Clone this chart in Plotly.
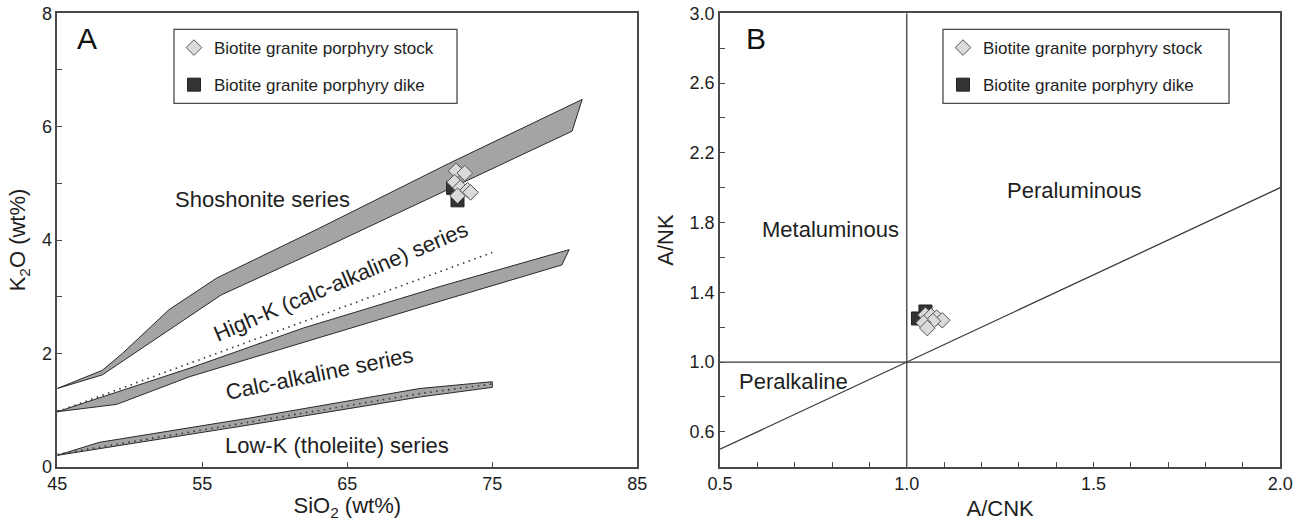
import plotly.graph_objects as go

W, H = 1307, 521

# ---------------- Panel A: SiO2 vs K2O ----------------
# Series boundary bands (upper edge / lower edge, left to right)
sho_upper_x = [45, 48.1, 49.5, 52.7, 56.0, 63.0, 72.0, 81.2]
sho_upper_y = [1.38, 1.70, 2.00, 2.77, 3.33, 4.20, 5.35, 6.48]
sho_lower_x = [45, 48.1, 49.3, 56.3, 63.3, 71.4, 80.5]
sho_lower_y = [1.38, 1.62, 1.82, 3.03, 3.85, 4.83, 5.92]

hk_upper_x = [45, 48.0, 54.15, 62.0, 71.4, 80.3]
hk_upper_y = [0.97, 1.22, 1.74, 2.45, 3.18, 3.83]
hk_lower_x = [45, 49.1, 54.15, 71.4, 79.8]
hk_lower_y = [0.97, 1.10, 1.59, 2.92, 3.56]

lk_upper_x = [45, 47.9, 58.3, 70.0, 75.0]
lk_upper_y = [0.20, 0.43, 0.86, 1.38, 1.50]
lk_lower_x = [45, 58.3, 70.0, 75.0]
lk_lower_y = [0.20, 0.74, 1.23, 1.40]

# Dotted reference lines
hk_dot_x = [45, 75]
hk_dot_y = [0.97, 3.78]
lk_dot_x = [45, 58.3, 70.0, 75.0]
lk_dot_y = [0.22, 0.79, 1.29, 1.46]

# Samples
stock_sio2 = [72.5, 73.1, 72.4, 72.8, 73.3, 73.5, 72.6]
stock_k2o = [5.22, 5.18, 5.02, 4.92, 4.88, 4.84, 4.78]
dike_sio2 = [72.3, 72.6]
dike_k2o = [4.92, 4.70]

a_xticks = [45, 55, 65, 75, 85]
a_xtext = ["45", "55", "65", "75", "85"]
a_yticks = [0, 2, 4, 6, 8]
a_ytext = ["0", "2", "4", "6", "8"]
a_yminor = [1, 3, 5, 7]

# ---------------- Panel B: A/CNK vs A/NK ----------------
vline_x = [1.0, 1.0]
vline_y = [0.4, 3.0]
hline_x = [0.5, 2.0]
hline_y = [1.0, 1.0]
diag_x = [0.5, 2.0]
diag_y = [0.5, 2.0]

stock_acnk = [1.05, 1.065, 1.08, 1.095, 1.07, 1.045, 1.055]
stock_anK = [1.27, 1.265, 1.255, 1.24, 1.235, 1.225, 1.195]
dike_acnk = [1.03, 1.05]
dike_anK = [1.25, 1.29]

b_xticks = [0.5, 1.0, 1.5, 2.0]
b_xtext = ["0.5", "1.0", "1.5", "2.0"]
b_xminor = [0.6, 0.7, 0.8, 0.9, 1.1, 1.2, 1.3, 1.4, 1.6, 1.7, 1.8, 1.9]
b_yticks = [0.6, 1.0, 1.4, 1.8, 2.2, 2.6, 3.0]
b_ytext = ["0.6", "1.0", "1.4", "1.8", "2.2", "2.6", "3.0"]
b_yminor = [0.4, 0.8, 1.2, 1.6, 2.0, 2.4, 2.8]

FONT = "Liberation Sans, Arial, sans-serif"
TXT = "#1e1e1e"
AX = "#4a4a4a"
BAND_FILL = "#a4a4a4"
BAND_LINE = "#2a2a2a"

STOCK_MARKER = dict(symbol="diamond", size=12, color="#dadada", line=dict(color="#555555", width=1))
DIKE_MARKER = dict(symbol="square", size=13, color="#333333", line=dict(color="#222222", width=1))

fig = go.Figure()


def band(ux, uy, lx, ly):
    return go.Scatter(
        x=ux + lx[::-1], y=uy + ly[::-1], mode="lines", fill="toself",
        fillcolor=BAND_FILL, line=dict(color=BAND_LINE, width=1),
        hoverinfo="skip", showlegend=False, xaxis="x", yaxis="y")


fig.add_trace(band(sho_upper_x, sho_upper_y, sho_lower_x, sho_lower_y))
fig.add_trace(band(hk_upper_x, hk_upper_y, hk_lower_x, hk_lower_y))
fig.add_trace(band(lk_upper_x, lk_upper_y, lk_lower_x, lk_lower_y))

for dx, dy in [(hk_dot_x, hk_dot_y), (lk_dot_x, lk_dot_y)]:
    fig.add_trace(go.Scatter(x=dx, y=dy, mode="lines",
                             line=dict(color="#333333", width=1.6, dash="1.5px,4.5px"),
                             hoverinfo="skip", showlegend=False, xaxis="x", yaxis="y"))

# Panel A samples (dike first so the stock diamonds sit on top)
fig.add_trace(go.Scatter(x=dike_sio2, y=dike_k2o, mode="markers", marker=DIKE_MARKER,
                         name="Biotite granite porphyry dike", legend="legend",
                         legendgroup="dikeA", legendrank=2, xaxis="x", yaxis="y"))
fig.add_trace(go.Scatter(x=stock_sio2, y=stock_k2o, mode="markers", marker=STOCK_MARKER,
                         name="Biotite granite porphyry stock", legend="legend",
                         legendgroup="stockA", legendrank=1, xaxis="x", yaxis="y"))

# Panel B boundary lines
for lx, ly in [(vline_x, vline_y), (hline_x, hline_y), (diag_x, diag_y)]:
    fig.add_trace(go.Scatter(x=lx, y=ly, mode="lines", line=dict(color="#3a3a3a", width=1.3),
                             hoverinfo="skip", showlegend=False, xaxis="x2", yaxis="y2"))

fig.add_trace(go.Scatter(x=dike_acnk, y=dike_anK, mode="markers", marker=DIKE_MARKER,
                         name="Biotite granite porphyry dike", legend="legend2",
                         legendgroup="dikeB", legendrank=2, xaxis="x2", yaxis="y2"))
fig.add_trace(go.Scatter(x=stock_acnk, y=stock_anK, mode="markers", marker=STOCK_MARKER,
                         name="Biotite granite porphyry stock", legend="legend2",
                         legendgroup="stockB", legendrank=1, xaxis="x2", yaxis="y2"))

ydom = [1 - 466.7 / H, 1 - 13.3 / H]
axis_common = dict(showline=True, mirror=True, linecolor=AX, linewidth=1.6,
                   ticks="inside", ticklen=5, tickwidth=1.2, tickcolor=AX,
                   showgrid=False, zeroline=False, automargin=False, tickmode="array",
                   tickfont=dict(family=FONT, size=18, color=TXT),
                   title_font=dict(family=FONT, size=22, color=TXT))


def minor(vals):
    return dict(tickmode="array", tickvals=vals, ticks="inside", ticklen=5,
                tickwidth=1.2, tickcolor=AX, showgrid=False)


LEG = dict(yanchor="top", xanchor="left", y=1 - 30 / H,
           bgcolor="rgba(0,0,0,0)", borderwidth=0, traceorder="grouped",
           tracegroupgap=12, font=dict(family=FONT, size=17, color=TXT))

fig.update_layout(
    width=W, height=H, margin=dict(l=0, r=0, t=0, b=0, autoexpand=False),
    paper_bgcolor="white", plot_bgcolor="white",
    font=dict(family=FONT, color=TXT),
    xaxis=dict(domain=[57.3 / W, 637.3 / W], range=[45, 85],
               tickvals=a_xticks, ticktext=a_xtext, anchor="y",
               title=dict(text="SiO<sub>2</sub> (wt%)", standoff=8), **axis_common),
    yaxis=dict(domain=ydom, range=[0, 8],
               tickvals=a_yticks, ticktext=a_ytext, anchor="x", minor=minor(a_yminor),
               title=dict(text="K<sub>2</sub>O (wt%)", standoff=10), **axis_common),
    xaxis2=dict(domain=[720 / W, 1280.3 / W], range=[0.5, 2.0],
                tickvals=b_xticks, ticktext=b_xtext, anchor="y2", minor=minor(b_xminor),
                title=dict(text="A/CNK", standoff=8), **axis_common),
    yaxis2=dict(domain=ydom, range=[0.4, 3.0],
                tickvals=b_yticks, ticktext=b_ytext, anchor="x2", minor=minor(b_yminor),
                title=dict(text="A/NK", standoff=10), **axis_common),
    legend=dict(x=174 / W, **LEG),
    legend2=dict(x=943 / W, **LEG),
    showlegend=True,
)

# Legend frames
for x0, x1 in [(174, 457), (943, 1229)]:
    fig.add_shape(type="rect", xref="paper", yref="paper",
                  x0=x0 / W, x1=x1 / W, y0=1 - 103.3 / H, y1=1 - 29.3 / H,
                  line=dict(color=AX, width=1.3), fillcolor="rgba(0,0,0,0)", layer="above")

# Panel letters
for letter, cx in [("A", 87), ("B", 756)]:
    fig.add_annotation(text=letter, xref="paper", yref="paper", x=cx / W, y=1 - 39 / H,
                       xanchor="center", yanchor="middle", showarrow=False,
                       font=dict(family=FONT, size=30, color="#111"))

# Field labels, panel A
LBL = dict(family=FONT, size=22, color=TXT)
fig.add_annotation(text="Shoshonite series", x=59.15, y=4.71, xref="x", yref="y",
                   showarrow=False, font=LBL)
fig.add_annotation(text="High-K (calc-alkaline) series", x=64.55, y=3.26, xref="x", yref="y",
                   showarrow=False, textangle=-23, font=LBL)
fig.add_annotation(text="Calc-alkaline series", x=63.1, y=1.65, xref="x", yref="y",
                   showarrow=False, textangle=-11.5, font=LBL)
fig.add_annotation(text="Low-K (tholeiite) series", x=64.26, y=0.38, xref="x", yref="y",
                   showarrow=False, font=LBL)

# Field labels, panel B
fig.add_annotation(text="Metaluminous", x=0.797, y=1.763, xref="x2", yref="y2",
                   showarrow=False, font=LBL)
fig.add_annotation(text="Peraluminous", x=1.448, y=1.981, xref="x2", yref="y2",
                   showarrow=False, font=LBL)
fig.add_annotation(text="Peralkaline", x=0.696, y=0.888, xref="x2", yref="y2",
                   showarrow=False, font=LBL)

fig.write_html("out.html")
